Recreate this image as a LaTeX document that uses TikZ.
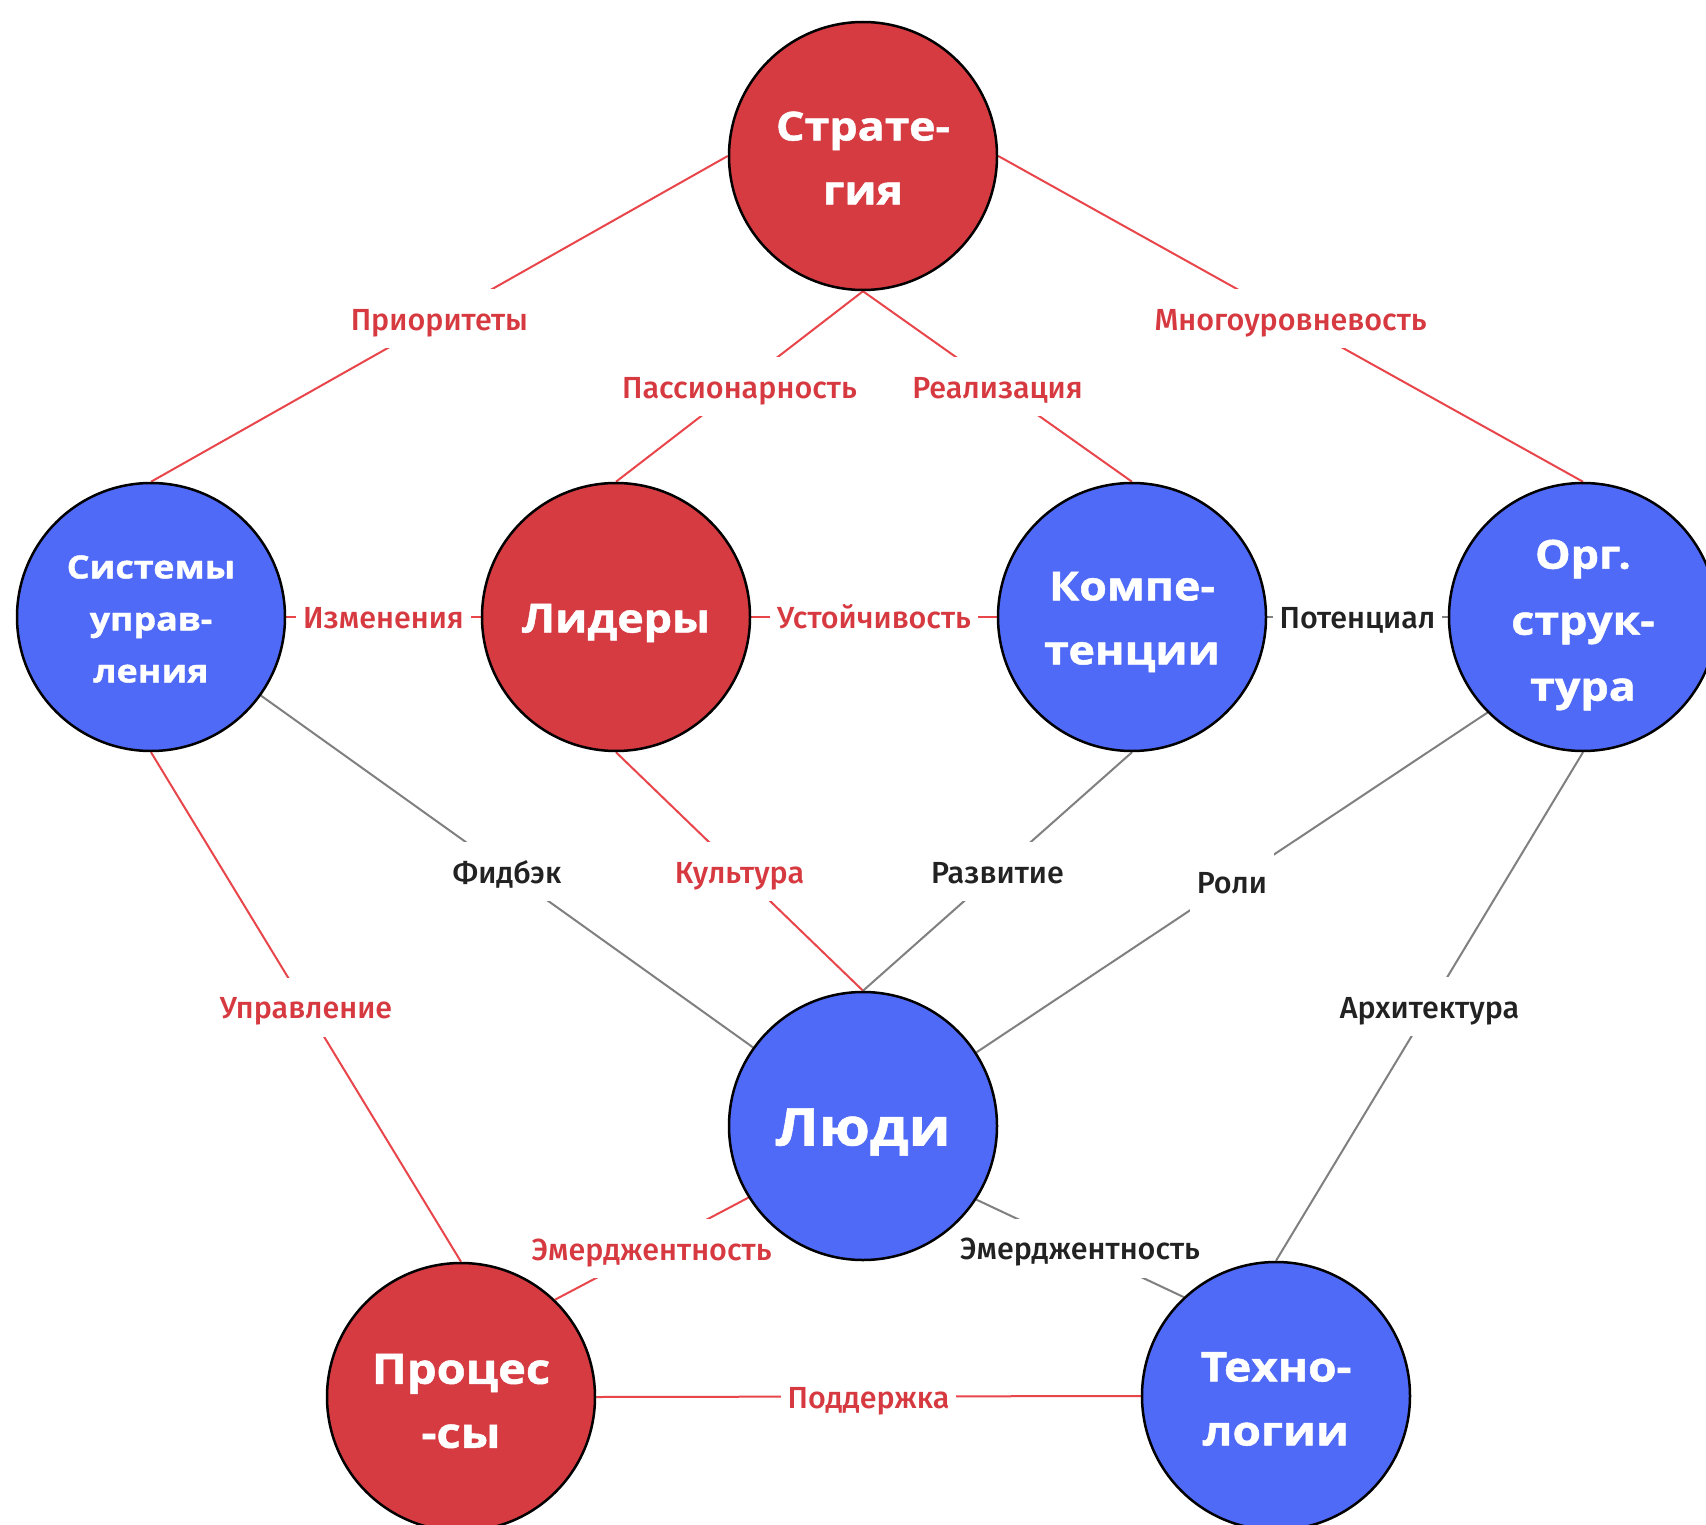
\documentclass[tikz,border=0pt]{standalone}
\usepackage{fontspec}
\newfontfamily\circfont{Open Sans}[FakeStretch=1.12, FakeBold=1.2]
\newfontfamily\labfont{Fira Sans}[UprightFont=* Medium]
\definecolor{redfill}{RGB}{213,59,65}
\definecolor{bluefill}{RGB}{80,106,248}
\definecolor{redline}{RGB}{232,70,75}
\definecolor{redtext}{RGB}{214,58,64}
\definecolor{grayline}{RGB}{128,128,128}
\definecolor{darktext}{RGB}{34,34,34}
\pgfdeclarelayer{bg}
\pgfsetlayers{bg,main}
\begin{document}
\begin{tikzpicture}[x=1pt,y=-1pt,
  circ/.style={circle, draw=black, line width=2.5pt, minimum size=268pt, inner sep=0pt},
  redc/.style={circ, fill=redfill},
  bluec/.style={circ, fill=bluefill},
  ctext/.style={text=white, align=center, inner sep=0pt, font=\circfont\bfseries\fontsize{40}{64}\selectfont},
  rl/.style={draw=redline, line width=2pt},
  gl/.style={draw=grayline, line width=2pt},
  lbl/.style={fill=white, inner xsep=7pt, inner ysep=15pt, text height=26pt, text depth=3pt,
    font=\labfont\fontsize{30.5}{36}\selectfont},
  rlab/.style={lbl, text=redtext},
  glab/.style={lbl, text=darktext},
]
\useasboundingbox (0,0) rectangle (1706,1525);
\clip (0,0) rectangle (1706,1525);
\begin{pgfonlayer}{bg}
\fill[white] (0,0) rectangle (1706,1525);
\end{pgfonlayer}

\node[redc] (strat) at (863,156) {};
\node[bluec] (sys) at (151,617) {};
\node[redc] (lid) at (616,617) {};
\node[bluec] (komp) at (1132,617) {};
\node[bluec] (org) at (1583,617) {};
\node[bluec] (ludi) at (863,1126) {};
\node[redc] (proc) at (461,1397) {};
\node[bluec] (tech) at (1276,1396) {};

\node[ctext, yshift=-2pt] (strat-t) at (strat) {Страте-\\гия};
\node[ctext, yshift=-2pt, font=\circfont\bfseries\fontsize{32}{52}\selectfont] (sys-t) at (sys) {Системы\\управ-\\ления};
\node[ctext, yshift=-6pt, font=\circfont\bfseries\fontsize{40}{64}\selectfont] (lid-t) at (lid) {Лидеры};
\node[ctext, yshift=-5pt] (komp-t) at (komp) {Компе-\\тенции};
\node[ctext, yshift=-8pt, font=\circfont\bfseries\fontsize{40}{66}\selectfont] (org-t) at (org) {Орг.\\струк-\\тура};
\node[ctext, yshift=-6pt, font=\circfont\bfseries\fontsize{52}{64}\selectfont] (ludi-t) at (ludi) {Люди};
\node[ctext, yshift=-4pt, font=\circfont\bfseries\fontsize{42}{64}\selectfont] (proc-t) at (proc) {Процес\\-сы};
\node[ctext, yshift=-3pt, font=\circfont\bfseries\fontsize{41}{64}\selectfont] (tech-t) at (tech) {Техно-\\логии};

\begin{pgfonlayer}{bg}
\draw[rl] (strat.west) -- node[rlab] {Приоритеты} (sys.north);
\draw[rl] (strat.east) -- node[rlab] {Многоуровневость} (org.north);
\draw[rl] (strat.south) -- node[rlab] {Пассионарность} (lid.north);
\draw[rl] (strat.south) -- node[rlab] {Реализация} (komp.north);
\draw[rl] (sys.east) -- node[rlab] {Изменения} (lid.west);
\draw[rl] (lid.east) -- node[rlab] {Устойчивость} (komp.west);
\draw[gl] (komp.east) -- node[glab] {Потенциал} (org.west);
\draw[gl] (sys) -- node[glab] {Фидбэк} (ludi);
\draw[rl] (lid.south) -- node[rlab] {Культура} (ludi.north);
\draw[gl] (komp.south) -- node[glab] {Развитие} (ludi.north);
\draw[gl] (org.225) -- node[glab] {Роли} (ludi.33);
\draw[gl] (org.south) -- node[glab] {Архитектура} (tech.north);
\draw[rl] (sys.south) -- node[rlab] {Управление} (proc.north);
\draw[rl] (ludi.212) -- node[rlab] {Эмерджентность} (proc.46);
\draw[gl] (ludi.327) -- node[glab] {Эмерджентность} (tech.133);
\draw[rl] (proc.east) -- node[rlab] {Поддержка} (tech.west);
\end{pgfonlayer}
\end{tikzpicture}
\end{document}
